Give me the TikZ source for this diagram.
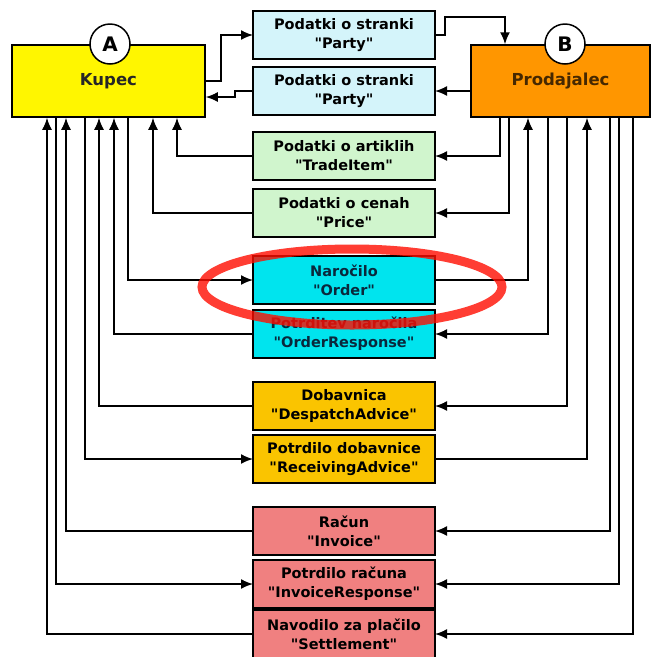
\documentclass[tikz,border=0pt]{standalone}
\usepackage{fontspec}
\setmainfont{DejaVu Sans}[Ligatures=TeXOff]
\usetikzlibrary{positioning, arrows.meta}
\definecolor{kupecyellow}{RGB}{255,246,0}
\definecolor{prodorange}{RGB}{255,150,0}
\definecolor{partycyan}{RGB}{212,244,250}
\definecolor{itemgreen}{RGB}{208,245,205}
\definecolor{ordercyan}{RGB}{0,228,238}
\definecolor{despgold}{RGB}{250,196,0}
\definecolor{invsalmon}{RGB}{240,128,128}
\definecolor{ordertext}{RGB}{10,40,60}

\begin{document}
\begin{tikzpicture}[x=1pt, y=-1pt, node distance=8pt,
  every node/.style={align=center},
  msg/.style={draw, line width=1.5pt, outer sep=0pt, minimum width=182pt, minimum height=48pt, inner sep=2pt, font=\fontsize{14.5}{19}\selectfont\bfseries},
  role/.style={draw, line width=1.5pt, minimum height=72pt, font=\fontsize{16.5}{20}\selectfont\bfseries},
  tag/.style={circle, draw, line width=1.5pt, fill=white, minimum size=40pt, inner sep=0pt, font=\fontsize{20}{24}\selectfont\bfseries},
  link/.style={line width=1.7pt},
  arr/.style={link, -{Latex[length=12pt, width=10pt]}}]
\useasboundingbox (0,0) rectangle (653,657);

% the two parties
\node[role, fill=kupecyellow, minimum width=193pt, text=black!85] (kupec) at (108.5,81) {Kupec};
\node[role, fill=prodorange, minimum width=179pt, text={rgb,255:red,70;green,40;blue,0}] (prod) at (560.5,81) {Prodajalec};
\node[tag] (tagA) at (110,44) {A};
\node[tag] (tagB) at (565,44) {B};

% messages
\node[msg, fill=partycyan] (party1) at (344,35) {Podatki o stranki\\"Party"};
\node[msg, fill=partycyan, below=of party1] (party2) {Podatki o stranki\\"Party"};
\node[msg, fill=itemgreen, below=17pt of party2] (item) {Podatki o artiklih\\"TradeItem"};
\node[msg, fill=itemgreen, below=9pt of item] (price) {Podatki o cenah\\"Price"};
\node[msg, fill=ordercyan, text=ordertext, below=19pt of price] (order) {Naročilo\\"Order"};
\node[msg, fill=ordercyan, text=ordertext, below=6pt of order] (ordresp) {Potrditev naročila\\"OrderResponse"};
\node[msg, fill=despgold, below=24pt of ordresp] (desp) {Dobavnica\\"DespatchAdvice"};
\node[msg, fill=despgold, below=5pt of desp] (recv) {Potrdilo dobavnice\\"ReceivingAdvice"};
\node[msg, fill=invsalmon, below=24pt of recv] (inv) {Račun\\"Invoice"};
\node[msg, fill=invsalmon, below=5pt of inv] (invresp) {Potrdilo računa\\"InvoiceResponse"};
\node[msg, fill=invsalmon, below=2pt of invresp] (settle) {Navodilo za plačilo\\"Settlement"};

% party data
\draw[arr] (kupec.east) -- ++(15,0) |- (party1.west);
\draw[arr] (party2.west) -- ++(-18,0) |- ([yshift=-16pt]kupec.east);
\draw[arr] (party1.east) -- ++(10,0) |- (505,17) -- (505,0 |- prod.north);
\draw[arr] (prod.west |- party2.east) -- (party2.east);

% Kupec side
\draw[arr] (item.west) -| (177,0 |- kupec.south);
\draw[arr] (price.west) -| (153,0 |- kupec.south);
\draw[arr] (128,0 |- kupec.south) |- (order.west);
\draw[arr] (ordresp.west) -| (114,0 |- kupec.south);
\draw[arr] (desp.west) -| (99,0 |- kupec.south);
\draw[arr] (85,0 |- kupec.south) |- (recv.west);
\draw[arr] (inv.west) -| (66,0 |- kupec.south);
\draw[arr] (56,0 |- kupec.south) |- (invresp.west);
\draw[arr] (settle.west) -| (47,0 |- kupec.south);

% Prodajalec side
\draw[arr] (500,0 |- prod.south) |- (item.east);
\draw[arr] (509,0 |- prod.south) |- (price.east);
\draw[arr] (order.east) -| (528,0 |- prod.south);
\draw[arr] (548,0 |- prod.south) |- (ordresp.east);
\draw[arr] (567,0 |- prod.south) |- (desp.east);
\draw[arr] (recv.east) -| (587,0 |- prod.south);
\draw[arr] (610,0 |- prod.south) |- (inv.east);
\draw[arr] (619,0 |- prod.south) |- (invresp.east);
\draw[arr] (633,0 |- prod.south) |- (settle.east);

% highlight
\draw[red!90!orange, line width=9pt, opacity=0.8] (352,287) ellipse [x radius=150pt, y radius=38pt];
\end{tikzpicture}
\end{document}
